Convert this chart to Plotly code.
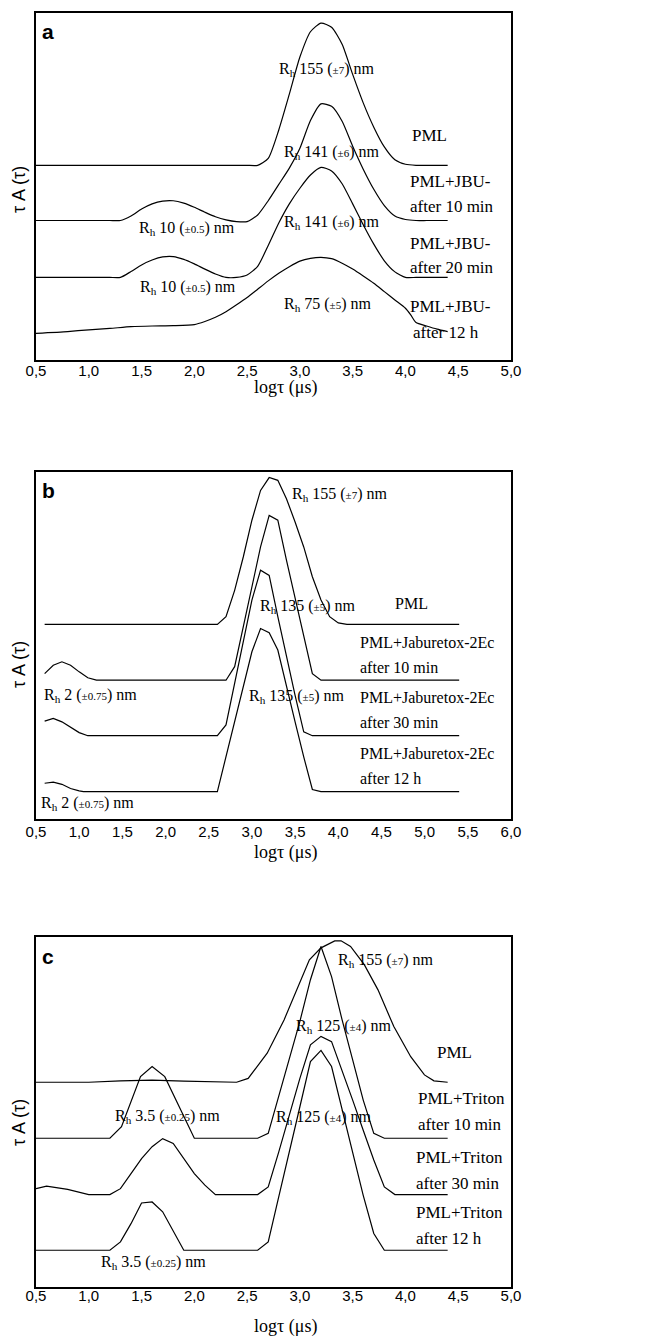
import plotly.graph_objects as go

# ---------------- Panel a data (x: log tau, y: tau A(tau), arbitrary units) ----------------
a_pml_x = [0.5, 1.0, 1.5, 2.0, 2.4, 2.5, 2.6, 2.7, 2.8, 2.9, 3.0, 3.1, 3.2, 3.3, 3.4, 3.5, 3.6, 3.7, 3.8,
           3.9, 4.0, 4.1, 4.2, 4.3, 4.4]
a_pml_y = [56.1, 56.1, 56.1, 56.1, 56.1, 56.1, 56.1, 58.1, 66.3, 76.6, 87.3, 94.6, 97.1, 95.9, 91.0, 82.3,
           74.1, 67.1, 61.4, 57.7, 56.4, 56.1, 56.1, 56.1, 56.1]

a_10_x = [0.5, 0.8, 1.0, 1.2, 1.3, 1.4, 1.5, 1.6, 1.7, 1.8, 1.9, 2.0, 2.1, 2.2, 2.3, 2.4, 2.5, 2.6, 2.7,
          2.8, 2.9, 3.0, 3.1, 3.2, 3.3, 3.4, 3.5, 3.6, 3.7, 3.8, 3.9, 4.0, 4.1, 4.2, 4.3, 4.4]
a_10_y = [40.2, 40.2, 40.2, 40.2, 40.2, 41.5, 43.5, 45.0, 45.8, 45.9, 45.2, 44.0, 42.6, 41.3, 40.4, 39.9,
          39.9, 41.8, 45.9, 50.6, 55.3, 61.0, 69.0, 73.8, 73.1, 68.8, 61.6, 55.0, 49.2, 44.5, 41.5, 40.5,
          40.2, 40.2, 40.2, 40.2]

a_20_x = [0.5, 0.8, 1.0, 1.2, 1.3, 1.4, 1.5, 1.6, 1.7, 1.8, 1.9, 2.0, 2.1, 2.2, 2.3, 2.4, 2.5, 2.6, 2.7,
          2.8, 2.9, 3.0, 3.1, 3.2, 3.3, 3.4, 3.5, 3.6, 3.7, 3.8, 3.9, 4.0, 4.1, 4.2, 4.3, 4.4]
a_20_y = [23.8, 23.8, 23.8, 23.8, 23.8, 25.5, 27.4, 28.8, 29.7, 29.8, 29.0, 27.7, 26.2, 24.8, 23.8, 23.8,
          24.5, 27.0, 33.0, 39.5, 45.0, 49.5, 53.3, 55.5, 54.5, 50.8, 45.0, 39.0, 33.4, 28.6, 25.4, 23.8,
          23.8, 23.8, 23.8, 23.8]

a_12h_x = [0.5, 0.8, 1.0, 1.2, 1.4, 1.6, 1.8, 2.0, 2.1, 2.2, 2.3, 2.4, 2.5, 2.6, 2.7, 2.8, 2.9, 3.0,
           3.1, 3.2, 3.3, 3.4, 3.5, 3.6, 3.7, 3.8, 3.9, 4.0, 4.05, 4.1, 4.2, 4.3, 4.4]
a_12h_y = [7.7, 8.2, 8.7, 9.1, 9.6, 9.8, 9.9, 10.2, 11.1, 12.3, 13.9, 15.9, 18.0, 20.4, 22.8, 25.0, 26.9,
           28.5, 29.3, 29.6, 29.2, 27.9, 26.2, 24.2, 22.1, 19.7, 17.3, 14.9, 13.0, 10.8, 9.8, 8.9, 8.2]

# ---------------- Panel b data ----------------
b_pml_x = [0.6, 2.6, 2.7, 2.8, 2.9, 3.0, 3.1, 3.2, 3.3, 3.4, 3.5, 3.6, 3.7, 3.8, 3.9, 4.0, 4.1, 5.4]
b_pml_y = [56.1, 56.1, 58.3, 65.9, 75.5, 86.1, 94.7, 98.4, 97.6, 92.3, 85.6, 78.4, 69.8, 63.1, 58.3, 56.5, 56.1, 56.1]

b_10_x = [0.6, 0.7, 0.8, 0.9, 1.0, 1.1, 1.2, 2.7, 2.8, 2.9, 3.0, 3.1, 3.2, 3.3, 3.4, 3.5, 3.6, 3.7, 3.8, 5.4]
b_10_y = [41.9, 44.3, 45.3, 44.3, 42.4, 40.7, 40.0, 40.0, 43.9, 55.4, 66.9, 78.4, 87.5, 86.1, 74.6, 63.5,
          52.5, 41.9, 40.0, 40.0]

b_30_x = [0.6, 0.7, 0.8, 0.9, 1.0, 1.1, 2.6, 2.7, 2.8, 2.9, 3.0, 3.1, 3.2, 3.3, 3.4, 3.5, 3.6, 3.7, 5.4]
b_30_y = [28.2, 29.0, 28.0, 26.4, 24.9, 24.0, 24.0, 27.1, 39.1, 51.1, 63.1, 71.7, 70.2, 58.3, 46.9, 35.6,
          25.1, 24.0, 24.0]

b_12h_x = [0.6, 0.7, 0.8, 0.9, 1.0, 1.05, 2.6, 2.7, 2.8, 2.9, 3.0, 3.1, 3.2, 3.3, 3.4, 3.5, 3.6, 3.7, 3.8, 5.4]
b_12h_y = [10.3, 10.6, 10.0, 8.8, 8.1, 7.9, 7.9, 17.9, 28.0, 38.1, 48.2, 54.9, 53.7, 48.7, 38.1, 28.0,
           17.9, 8.5, 7.9, 7.9]

# ---------------- Panel c data ----------------
c_pml_x = [0.5, 1.0, 1.3, 1.6, 1.9, 2.2, 2.4, 2.51, 2.69, 2.85, 3.01, 3.09, 3.2, 3.33, 3.39, 3.48, 3.61,
           3.74, 3.89, 4.05, 4.18, 4.27, 4.4]
c_pml_y = [58.5, 58.5, 58.9, 59.1, 58.8, 58.5, 58.5, 59.6, 66.8, 76.3, 87.8, 93.5, 96.9, 98.9, 98.9, 97.3,
           92.1, 84.9, 74.4, 65.8, 60.6, 58.9, 58.5]

c_10_x = [0.5, 1.2, 1.31, 1.49, 1.6, 1.72, 2.0, 2.6, 2.7, 2.8, 2.9, 3.0, 3.1, 3.2, 3.3, 3.4, 3.5, 3.6, 3.7, 3.8, 4.4]
c_10_y = [42.5, 42.5, 45.8, 60.1, 63.0, 60.1, 42.5, 42.5, 43.9, 54.4, 64.9, 75.9, 87.8, 97.3, 88.7, 76.3,
          64.9, 53.4, 43.9, 42.5, 42.5]

c_30_x = [0.5, 0.6, 0.8, 1.0, 1.2, 1.3, 1.4, 1.5, 1.6, 1.7, 1.8, 1.9, 2.0, 2.1, 2.2, 2.6, 2.7, 2.8, 2.9,
          3.0, 3.1, 3.2, 3.3, 3.4, 3.5, 3.6, 3.7, 3.8, 3.9, 4.4]
c_30_y = [28.1, 28.8, 27.9, 26.4, 26.4, 28.1, 32.4, 36.7, 40.1, 42.4, 41.0, 36.7, 32.4, 29.1, 26.4, 26.4,
          28.6, 38.6, 49.1, 59.6, 69.2, 71.6, 70.1, 62.0, 53.4, 44.8, 36.3, 28.6, 26.4, 26.4]

c_12h_x = [0.5, 1.2, 1.3, 1.4, 1.5, 1.6, 1.7, 1.8, 1.9, 2.6, 2.7, 2.8, 2.9, 3.0, 3.1, 3.2, 3.3, 3.4, 3.5,
           3.6, 3.7, 3.8, 4.4]
c_12h_y = [10.5, 10.5, 12.9, 18.1, 24.0, 24.3, 21.5, 16.2, 10.5, 10.5, 12.9, 25.8, 39.1, 51.5, 64.4, 67.6,
           63.0, 50.6, 38.2, 26.2, 15.3, 10.5, 10.5]

# ---------------- Tick labels ----------------
ticks_a = [0.5, 1.0, 1.5, 2.0, 2.5, 3.0, 3.5, 4.0, 4.5, 5.0]
ticklabels_a = ["0,5", "1,0", "1,5", "2,0", "2,5", "3,0", "3,5", "4,0", "4,5", "5,0"]
ticks_b = [0.5, 1.0, 1.5, 2.0, 2.5, 3.0, 3.5, 4.0, 4.5, 5.0, 5.5, 6.0]
ticklabels_b = ["0,5", "1,0", "1,5", "2,0", "2,5", "3,0", "3,5", "4,0", "4,5", "5,0", "5,5", "6,0"]

# ---------------- Text labels: (text, x, y, anchor) ----------------
def rh(val, err):
    return "R<sub>h</sub> " + val + " (<span style='font-size:11px'>±" + err + "</span>) nm"

labels_a = [
    (rh("155", "7"), 2.78, 83.6, "left"),
    (rh("141", "6"), 2.83, 59.9, "left"),
    (rh("10", "0.5"), 1.46, 38.0, "left"),
    (rh("141", "6"), 2.83, 39.5, "left"),
    (rh("10", "0.5"), 1.47, 21.0, "left"),
    (rh("75", "5"), 2.83, 15.9, "left"),
]
legend_a = [
    ("PML", 4.23, 64.8, "center"),
    ("PML+JBU-", 4.02, 51.3, "left"), ("after 10 min", 4.02, 44.1, "left"),
    ("PML+JBU-", 4.02, 33.7, "left"), ("after 20 min", 4.02, 26.8, "left"),
    ("PML+JBU-", 4.02, 15.3, "left"), ("after 12 h", 4.05, 7.8, "left"),
]
labels_b = [
    (rh("155", "7"), 3.44, 93.4, "left"),
    (rh("135", "5"), 3.07, 61.1, "left"),
    (rh("2", "0.75"), 0.57, 35.7, "left"),
    (rh("135", "5"), 2.94, 35.2, "left"),
    (rh("2", "0.75"), 0.535, 4.6, "left"),
]
legend_b = [
    ("PML", 4.85, 62.2, "center"),
    ("PML+Jaburetox-2Ec", 4.23, 51.0, "left"), ("after 10 min", 4.23, 43.8, "left"),
    ("PML+Jaburetox-2Ec", 4.23, 34.9, "left"), ("after 30 min", 4.23, 27.7, "left"),
    ("PML+Jaburetox-2Ec", 4.23, 19.0, "left"), ("after 12 h", 4.23, 11.8, "left"),
]
labels_c = [
    (rh("155", "7"), 3.34, 93.4, "left"),
    (rh("125", "4"), 2.94, 74.3, "left"),
    (rh("3.5", "0.25"), 1.23, 48.6, "left"),
    (rh("125", "4"), 2.75, 48.3, "left"),
    (rh("3.5", "0.25"), 1.10, 7.1, "left"),
]
legend_c = [
    ("PML", 4.46, 66.9, "center"),
    ("PML+Triton", 4.10, 54.0, "left"), ("after 10 min", 4.10, 46.3, "left"),
    ("PML+Triton", 4.08, 37.1, "left"), ("after 30 min", 4.08, 29.7, "left"),
    ("PML+Triton", 4.08, 21.4, "left"), ("after 12 h", 4.08, 14.0, "left"),
]

# page offset (browser default body margin) compensated so the picture lands at reference pixels
OFF = 8
W, H = 652 - OFF, 1337 - OFF
SERIF = "Liberation Serif, Times New Roman, serif"
SANS = "Liberation Sans, Arial, sans-serif"


def fx(px):
    return (px - OFF) / W


def fy(py):
    return 1 - (py - OFF) / H


fig = go.Figure()

panels = [
    dict(ax="", curves=[(a_pml_x, a_pml_y), (a_10_x, a_10_y), (a_20_x, a_20_y), (a_12h_x, a_12h_y)],
         shape="spline", xr=[0.5, 5.0], tv=ticks_a, tt=ticklabels_a, top=13, bot=360, standoff=-4,
         labels=labels_a, legend=legend_a, leg_size=17, letter="a", xt_y=388, yt_y=190),
    dict(ax="2", curves=[(b_pml_x, b_pml_y), (b_10_x, b_10_y), (b_30_x, b_30_y), (b_12h_x, b_12h_y)],
         shape="linear", xr=[0.5, 6.0], tv=ticks_b, tt=ticklabels_b, top=472, bot=819, standoff=-2,
         labels=labels_b, legend=legend_b, leg_size=16, letter="b", xt_y=852, yt_y=665),
    dict(ax="3", curves=[(c_pml_x, c_pml_y), (c_10_x, c_10_y), (c_30_x, c_30_y), (c_12h_x, c_12h_y)],
         shape="linear", xr=[0.5, 5.0], tv=ticks_a, tt=ticklabels_a, top=937, bot=1287, standoff=-6,
         labels=labels_c, legend=legend_c, leg_size=17, letter="c", xt_y=1326, yt_y=1123),
]

annotations = []
left_px, right_px = 36, 511
for p in panels:
    xa, ya = "x" + p["ax"], "y" + p["ax"]
    for cx, cy in p["curves"]:
        line = dict(color="black", width=1.2, shape=p["shape"])
        if p["shape"] == "spline":
            line["smoothing"] = 0.6
        fig.add_trace(go.Scatter(x=cx, y=cy, mode="lines", line=line, xaxis=xa, yaxis=ya,
                                 showlegend=False, hoverinfo="skip"))
    fig.layout["xaxis" + p["ax"]] = dict(
        domain=[fx(left_px), fx(right_px)], range=p["xr"], anchor=ya, automargin=False,
        tickvals=p["tv"], ticktext=p["tt"], ticks="", showgrid=False, zeroline=False,
        showline=True, mirror=True, linecolor="black", linewidth=2,
        tickfont=dict(family=SANS, size=15, color="black"), ticklabelstandoff=p["standoff"],
    )
    fig.layout["yaxis" + p["ax"]] = dict(
        domain=[fy(p["bot"]), fy(p["top"])], range=[0, 100], anchor=xa, automargin=False,
        showticklabels=False, ticks="", showgrid=False, zeroline=False, showline=True, mirror=True,
        linecolor="black", linewidth=2,
    )
    for txt, x, y, anc in p["labels"]:
        annotations.append(dict(text=txt, x=x, y=y, xref=xa, yref=ya, xanchor=anc, yanchor="middle",
                                showarrow=False, font=dict(family=SERIF, size=16, color="black")))
    for txt, x, y, anc in p["legend"]:
        annotations.append(dict(text=txt, x=x, y=y, xref=xa, yref=ya, xanchor=anc, yanchor="middle",
                                showarrow=False, font=dict(family=SERIF, size=p["leg_size"], color="black")))
    # panel letter
    annotations.append(dict(text="<b>" + p["letter"] + "</b>", x=fx(40), y=fy(p["top"] + 19),
                            xref="paper", yref="paper", xanchor="left", yanchor="middle", showarrow=False,
                            font=dict(family=SANS, size=21, color="black")))
    # axis titles
    annotations.append(dict(text="logτ (μs)", x=fx(285), y=fy(p["xt_y"]), xref="paper", yref="paper",
                            xanchor="center", yanchor="middle", showarrow=False,
                            font=dict(family=SERIF, size=18, color="black")))
    annotations.append(dict(text="τ A (τ)", x=fx(19), y=fy(p["yt_y"]), xref="paper", yref="paper",
                            xanchor="center", yanchor="middle", showarrow=False, textangle=-90,
                            font=dict(family=SANS, size=18, color="black")))

fig.update_layout(width=W, height=H, margin=dict(l=0, r=0, t=0, b=0, autoexpand=False),
                  paper_bgcolor="white", plot_bgcolor="white", annotations=annotations,
                  showlegend=False)

fig.write_html("out.html")
